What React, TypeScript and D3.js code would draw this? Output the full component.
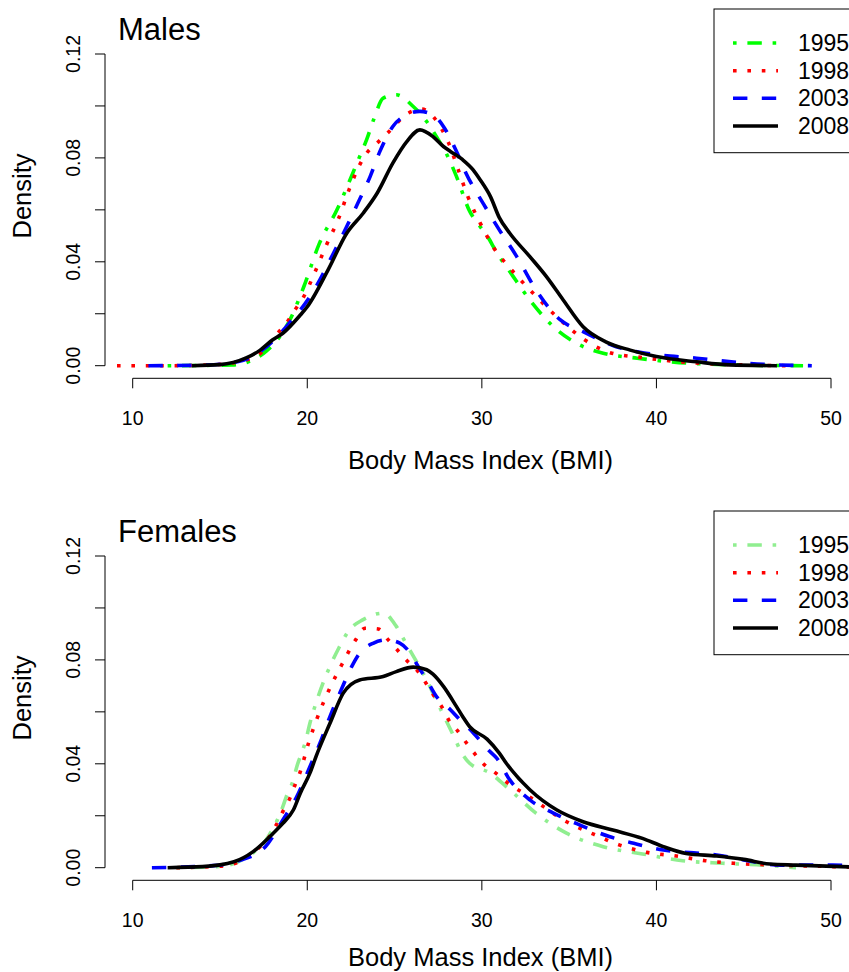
import React from "react";
import * as d3 from "d3";

// ---- data (BMI, density) ----
const years = ["1995", "1998", "2003", "2008"];

const males1995: [number, number][] = [
  [12.0, 0], [15.7, 0.0003], [16.8, 0.002], [17.5, 0.0048], [18.4, 0.011], [19.0, 0.0176],
  [19.8, 0.0304], [20.7, 0.0472], [21.7, 0.06], [22.45, 0.0716], [23.0, 0.0805], [23.4, 0.087],
  [23.8, 0.0947], [24.35, 0.103], [25.1, 0.1043], [26.07, 0.0998], [26.84, 0.094], [27.4, 0.0882],
  [28.0, 0.0812], [28.55, 0.0728], [29.3, 0.0595], [29.9, 0.0536], [30.45, 0.0484], [30.65, 0.0459],
  [31.8, 0.0343], [32.9, 0.024], [34.3, 0.0138], [35.6, 0.008], [36.95, 0.0048], [38.9, 0.0029],
  [41.3, 0.0012], [43.6, 0.0005], [48.4, 0],
];
const males1998: [number, number][] = [
  [9.1, 0], [12, 0], [14, 0.0002], [15.5, 0.0008], [16.5, 0.0022], [17.2, 0.0041], [18.3, 0.0125],
  [18.8, 0.0163], [19.3, 0.0215], [19.8, 0.0266], [20.45, 0.0362], [21.1, 0.0465], [21.8, 0.0568],
  [22.35, 0.067], [23.0, 0.0773], [23.4, 0.0818], [24.0, 0.0857], [24.6, 0.0896], [25.8, 0.0973],
  [26.55, 0.0988], [27.2, 0.096], [27.7, 0.0911], [28.1, 0.0857], [28.65, 0.0754], [29.2, 0.0651],
  [29.9, 0.055], [30.7, 0.0452], [31.7, 0.0369], [32.85, 0.0285], [34.66, 0.0166], [35.9, 0.0099],
  [37.35, 0.005], [39.1, 0.0032], [41.4, 0.0015], [45, 0.0003], [47.5, 0],
];
const males2003: [number, number][] = [
  [10.9, 0], [14, 0.0002], [16, 0.0015], [17.3, 0.0054], [18.8, 0.015], [20.5, 0.0304],
  [21.5, 0.0433], [22.26, 0.0536], [22.9, 0.0626], [23.6, 0.0728], [24.16, 0.0825], [24.9, 0.0921],
  [25.7, 0.0966], [26.45, 0.0979], [27.2, 0.0966], [27.8, 0.0921], [28.55, 0.0825], [29.1, 0.074],
  [30.1, 0.0622], [31.0, 0.0523], [32.0, 0.042], [33.1, 0.0292], [34.5, 0.0176], [35.8, 0.0131],
  [37.7, 0.0073], [39.4, 0.0048], [42.3, 0.0029], [45.2, 0.0009], [48.9, 0],
];
const males2008: [number, number][] = [
  [13.4, 0], [15, 0.0004], [16.5, 0.003], [17.3, 0.006], [18.0, 0.0099], [18.6, 0.0125],
  [19.6, 0.0195], [20.0, 0.0227], [21.2, 0.037], [22.26, 0.051], [23.2, 0.0587], [24.0, 0.0664],
  [24.9, 0.078], [25.7, 0.0863], [26.45, 0.0908], [27.2, 0.0882], [27.8, 0.0844], [28.2, 0.0825],
  [28.9, 0.0793], [29.5, 0.0754], [29.9, 0.0716], [30.5, 0.065], [31.0, 0.057], [31.6, 0.051],
  [32.75, 0.042], [33.7, 0.0343], [34.66, 0.0253], [35.8, 0.015], [37.1, 0.0092], [38.5, 0.006],
  [40.0, 0.0035], [42.3, 0.0015], [44.2, 0.0003], [46.9, 0],
];

const females1995: [number, number][] = [
  [12.5, 0], [15, 0.0005], [16.5, 0.004], [17.7, 0.0113], [18.6, 0.0235], [18.8, 0.0274],
  [19.2, 0.0338], [19.4, 0.0389], [19.6, 0.0428], [19.9, 0.0486], [20.15, 0.0556], [20.5, 0.0634],
  [20.9, 0.0711], [21.3, 0.0775], [21.8, 0.0845], [22.35, 0.091], [23.2, 0.0955], [24.35, 0.098],
  [25.1, 0.0929], [25.7, 0.0858], [26.2, 0.08], [26.84, 0.0723], [27.2, 0.0672], [27.8, 0.0588],
  [28.4, 0.0505], [28.75, 0.0454], [29.3, 0.0402], [30.45, 0.0365], [31.6, 0.03], [33.1, 0.021],
  [34.85, 0.0133], [36.95, 0.0081], [39.2, 0.0053], [41.5, 0.0027], [43.8, 0.0017], [46.1, 0.001],
  [48, 0],
];
const females1998: [number, number][] = [
  [12.5, 0], [15, 0.0006], [16.3, 0.003], [17.3, 0.0081], [17.8, 0.0117], [18.25, 0.0168],
  [18.6, 0.0216], [19.0, 0.0267], [19.3, 0.0319], [19.6, 0.037], [20.06, 0.0477], [20.6, 0.0582],
  [21.25, 0.0685], [21.97, 0.0781], [22.8, 0.088], [23.3, 0.0922], [24.07, 0.0919], [24.6, 0.088],
  [25.15, 0.0839], [25.7, 0.0798], [26.35, 0.0755], [27.2, 0.0668], [27.7, 0.062], [28.1, 0.0569],
  [28.6, 0.0528], [29.1, 0.0482], [29.6, 0.0438], [30.15, 0.0396], [30.8, 0.0364], [31.4, 0.0331],
  [32.85, 0.0267], [34.85, 0.0177], [36.4, 0.0129], [37.9, 0.0087], [39.45, 0.0059], [41.15, 0.0045],
  [42.8, 0.0027], [44.4, 0.0017], [46.9, 0.001], [50.2, 0.0004], [51.5, 0.0001],
];
const females2003: [number, number][] = [
  [11.1, 0], [14.6, 0.0008], [16, 0.0025], [17.6, 0.0081], [18.6, 0.0184], [19.4, 0.0274],
  [20.15, 0.0389], [20.8, 0.0492], [21.3, 0.0582], [21.9, 0.0678], [22.55, 0.0775], [23.0, 0.0826],
  [23.8, 0.0865], [24.55, 0.0877], [25.3, 0.0865], [25.9, 0.0826], [26.35, 0.0775], [26.84, 0.0723],
  [27.4, 0.0659], [28.2, 0.0608], [28.75, 0.0569], [29.5, 0.052], [30.45, 0.0448], [30.85, 0.0422],
  [31.6, 0.0338], [32.75, 0.0261], [34.1, 0.021], [35.6, 0.0165], [37.3, 0.012], [38.7, 0.0094],
  [40.4, 0.0068], [41.9, 0.0058], [43.45, 0.0049], [45.0, 0.003], [47.1, 0.001], [50.1, 0.001],
  [51.5, 0.0005],
];
const females2008: [number, number][] = [
  [12.0, 0], [14, 0.0004], [15.8, 0.0023], [16.9, 0.0062], [18.05, 0.0133], [18.6, 0.0171],
  [19.2, 0.0222], [19.6, 0.0287], [20.15, 0.0364], [20.5, 0.0428], [21.3, 0.0556], [22.06, 0.0672],
  [23.0, 0.0723], [24.35, 0.0736], [25.1, 0.0755], [26.07, 0.0772], [26.84, 0.0762], [27.2, 0.0745],
  [27.8, 0.0698], [28.55, 0.062], [28.9, 0.0582], [29.3, 0.0543], [30.3, 0.0495], [31.0, 0.0441],
  [31.4, 0.0402], [32.75, 0.03], [34.3, 0.0222], [35.8, 0.0177], [37.5, 0.0145], [39.2, 0.0113],
  [40.4, 0.0081], [41.7, 0.0055], [43.45, 0.0045], [45, 0.0032], [46.5, 0.0014], [48, 0.001],
  [51.5, 0.0002],
];

const xTicks = [10, 20, 30, 40, 50];
const yTicks = [0, 0.02, 0.04, 0.06, 0.08, 0.1, 0.12];
const yLabelTicks = [0, 0.04, 0.08, 0.12];

const maleColors = ["#00FF00", "#FF0000", "#0000FF", "#000000"];
const femaleColors = ["#90EE90", "#FF0000", "#0000FF", "#000000"];

const U = 3.6; // R lwd-scaled dash unit
const dashes = [
  `${U} ${3 * U} ${4 * U} ${3 * U}`, // lty 4 dotdash
  `${U} ${3 * U}`, // lty 3 dotted
  `${4 * U} ${4 * U}`, // lty 2 dashed
  "none",
];

const FONT = "'Liberation Sans', Arial, Helvetica, sans-serif";

const x = d3.scaleLinear().domain([10, 50]).range([132.7, 831]);

function Panel({ oy, title, series, colors, id, titleY }: { oy: number; title: string; series: [number, number][][]; colors: string[]; id: string; titleY: number }) {
  const y = d3.scaleLinear().domain([0, 0.12]).range([365.7 + oy, 54 + oy]);
  const line = d3
    .line<[number, number]>()
    .x((d) => x(d[0]))
    .y((d) => y(d[1]))
    .curve(d3.curveMonotoneX);
  const plotL = 105, plotR = 856, plotT = 13.7 + oy, plotB = 378.3 + oy;
  const legX = 714, legT = 9 + oy, legB = 152.7 + oy;
  const rowY = [43, 70.7, 98.3, 126].map((v) => v + oy);
  return (
    <g>
      <defs>
        <clipPath id={id}>
          <rect x={plotL} y={plotT} width={plotR - plotL} height={plotB - plotT} />
        </clipPath>
      </defs>
      <g clipPath={`url(#${id})`}>
        {series.map((s, i) => (
          <path
            key={i}
            d={line(s) || ""}
            fill="none"
            stroke={colors[i]}
            strokeWidth={3.6}
            strokeDasharray={dashes[i]}
            strokeLinecap="butt"
            strokeLinejoin="round"
          />
        ))}
      </g>
      {/* y axis */}
      <line x1={plotL} x2={plotL} y1={y(0)} y2={y(0.12)} stroke="#000" strokeWidth={1} />
      {yTicks.map((t) => (
        <line key={t} x1={plotL - 10} x2={plotL} y1={y(t)} y2={y(t)} stroke="#000" strokeWidth={1} />
      ))}
      {yLabelTicks.map((t) => (
        <text
          key={t}
          transform={`translate(80,${y(t)}) rotate(-90)`}
          textAnchor="middle"
          fontFamily={FONT}
          fontSize={19.5}
        >
          {d3.format(".2f")(t)}
        </text>
      ))}
      <text transform={`translate(31,${196 + oy}) rotate(-90)`} textAnchor="middle" fontFamily={FONT} fontSize={25.5}>
        Density
      </text>
      {/* x axis */}
      <line x1={x(10)} x2={x(50)} y1={plotB} y2={plotB} stroke="#000" strokeWidth={1} />
      {xTicks.map((t) => (
        <g key={t}>
          <line x1={x(t)} x2={x(t)} y1={plotB} y2={plotB + 10} stroke="#000" strokeWidth={1} />
          <text x={x(t)} y={plotB + 47} textAnchor="middle" fontFamily={FONT} fontSize={19.5}>
            {t}
          </text>
        </g>
      ))}
      <text x={480.5} y={titleY} textAnchor="middle" fontFamily={FONT} fontSize={25.5}>
        Body Mass Index (BMI)
      </text>
      {/* title */}
      <text x={118} y={40 + oy} fontFamily={FONT} fontSize={31}>
        {title}
      </text>
      {/* legend */}
      <rect x={legX} y={legT} width={860 - legX} height={legB - legT} fill="#fff" stroke="#000" strokeWidth={1} />
      {years.map((yr, i) => (
        <g key={yr}>
          <line
            x1={733}
            x2={778}
            y1={rowY[i]}
            y2={rowY[i]}
            stroke={colors[i]}
            strokeWidth={3.6}
            strokeDasharray={dashes[i]}
          />
          <text x={798} y={rowY[i] + 8} fontFamily={FONT} fontSize={23}>
            {yr}
          </text>
        </g>
      ))}
    </g>
  );
}

export default function App() {
  return (
    <svg
      width={849}
      height={972}
      style={{ position: "absolute", left: 0, top: 0, background: "#fff" }}
    >
      <rect width={849} height={972} fill="#fff" />
      <Panel oy={0} title="Males" series={[males1995, males1998, males2003, males2008]} colors={maleColors} id="clipM" titleY={469} />
      <Panel oy={502} title="Females" series={[females1995, females1998, females2003, females2008]} colors={femaleColors} id="clipF" titleY={966} />
    </svg>
  );
}
